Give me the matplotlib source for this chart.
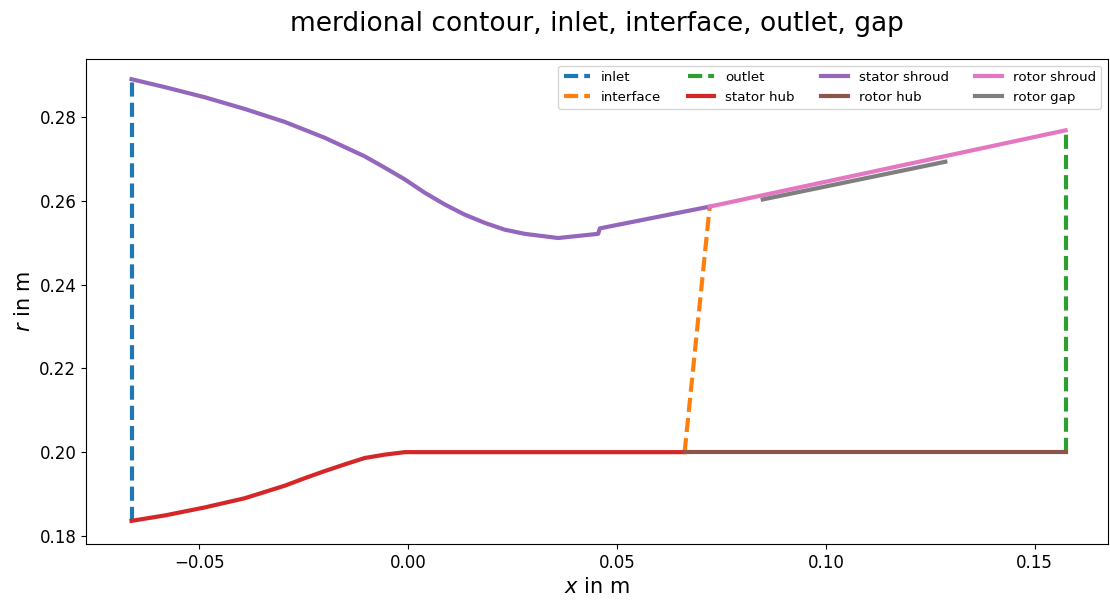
import numpy as np
import matplotlib
matplotlib.use('Agg')
import matplotlib.pyplot as plt

# punti (x in m, r in m)
inlet_x = [-0.0662, -0.0662]
inlet_r = [0.1836, 0.2890]

interface_x = [0.0662, 0.0722]
interface_r = [0.2000, 0.2586]

outlet_x = [0.1574, 0.1574]
outlet_r = [0.2000, 0.2768]

stator_hub_x = [-0.0662, -0.0582, -0.0487, -0.0391, -0.0295, -0.0247, -0.0199, -0.0151, -0.0104,
                -0.0056, -0.0008, 0.0040, 0.0662]
stator_hub_r = [0.1836, 0.1849, 0.1868, 0.1890, 0.1920, 0.1938, 0.1955, 0.1971, 0.1986,
                0.1994, 0.2000, 0.2000, 0.2000]

stator_shroud_x = [-0.0662, -0.0582, -0.0487, -0.0391, -0.0295, -0.0199, -0.0104, -0.0056, -0.0008,
                   0.0040, 0.0088, 0.0135, 0.0184, 0.0231, 0.0279, 0.0359, 0.0455, 0.0459, 0.0722]
stator_shroud_r = [0.2890, 0.2871, 0.2847, 0.2819, 0.2788, 0.2750, 0.2706, 0.2679, 0.2651,
                   0.2619, 0.2591, 0.2567, 0.2547, 0.2531, 0.2521, 0.2511, 0.2521, 0.2534, 0.2586]

rotor_hub_x = [0.0662, 0.1574]
rotor_hub_r = [0.2000, 0.2000]

rotor_shroud_x = [0.0722, 0.1574]
rotor_shroud_r = [0.2586, 0.2768]

rotor_gap_x = [0.0849, 0.1286]
rotor_gap_r = [0.2603, 0.2693]

fig = plt.figure(figsize=(11.1, 6.03), dpi=100)
ax = fig.add_axes([0.0775, 0.098, 0.9205, 0.804])

lw = 3
tratt = (0, (3.4, 1.45))  # tratteggio un po' piu' fitto del default
ax.plot(inlet_x, inlet_r, ls=tratt, lw=lw, label='inlet')
ax.plot(interface_x, interface_r, ls=tratt, lw=lw, label='interface')
ax.plot(outlet_x, outlet_r, ls=tratt, lw=lw, label='outlet')
ax.plot(stator_hub_x, stator_hub_r, lw=lw, label='stator hub')
ax.plot(stator_shroud_x, stator_shroud_r, lw=lw, label='stator shroud')
ax.plot(rotor_hub_x, rotor_hub_r, lw=lw, label='rotor hub')
ax.plot(rotor_shroud_x, rotor_shroud_r, lw=lw, label='rotor shroud')
ax.plot(rotor_gap_x, rotor_gap_r, lw=lw, label='rotor gap')

ax.set_xlim(-0.0771, 0.1675)
ax.set_ylim(0.1781, 0.2938)
ax.set_xticks([-0.05, 0.0, 0.05, 0.10, 0.15])
ax.set_yticks([0.18, 0.20, 0.22, 0.24, 0.26, 0.28])
ax.tick_params(labelsize=12)
ax.set_xlabel('$x$ in m', fontsize=15)
ax.set_ylabel('$r$ in m', fontsize=15)
ax.set_title('merdional contour, inlet, interface, outlet, gap', fontsize=19, pad=20)
ax.legend(loc='upper right', ncol=4, fontsize=9.6)

fig.savefig('out.png', dpi=100)
